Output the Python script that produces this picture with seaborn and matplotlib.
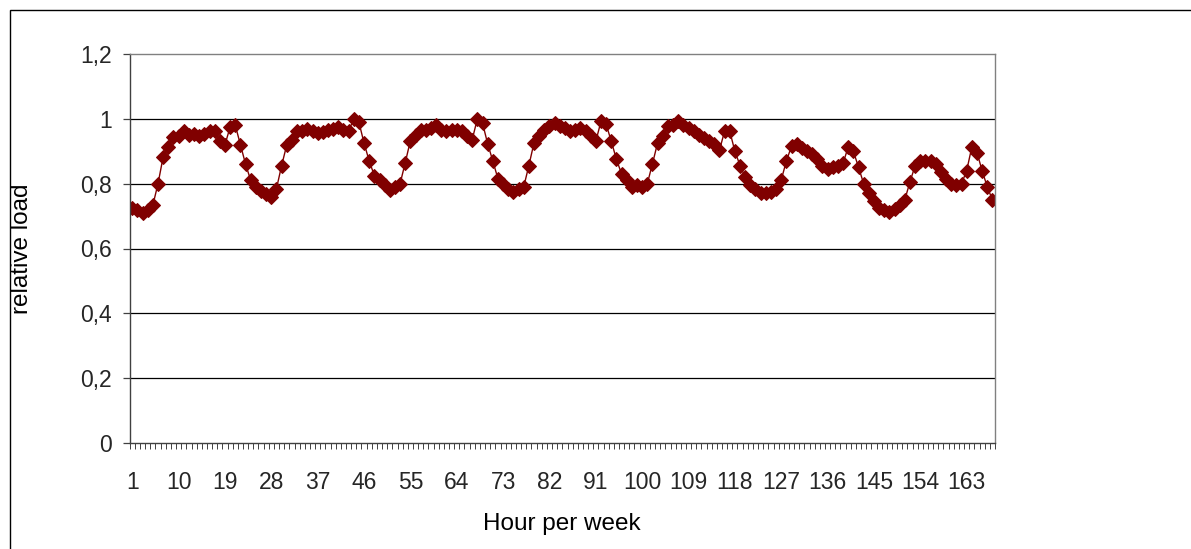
import matplotlib
matplotlib.use("Agg")
import matplotlib.pyplot as plt
import seaborn as sns
import numpy as np
import pandas as pd
from matplotlib.patches import Rectangle

# ---- data ----
hours = list(range(1, 169))
relative_load = [
    0.724, 0.719, 0.711, 0.719, 0.734, 0.800, 0.883, 0.913, 0.945, 0.947,
    0.964, 0.950, 0.952, 0.947, 0.954, 0.962, 0.962, 0.932, 0.920, 0.975,
    0.980, 0.920, 0.860, 0.810, 0.790, 0.776, 0.769, 0.759, 0.785, 0.856,
    0.920, 0.936, 0.962, 0.962, 0.970, 0.962, 0.955, 0.958, 0.965, 0.970,
    0.975, 0.967, 0.962, 1.000, 0.990, 0.925, 0.870, 0.825, 0.810, 0.795,
    0.780, 0.790, 0.800, 0.865, 0.933, 0.950, 0.967, 0.965, 0.972, 0.980,
    0.967, 0.962, 0.967, 0.967, 0.962, 0.946, 0.936, 1.000, 0.987, 0.923,
    0.870, 0.815, 0.800, 0.785, 0.775, 0.785, 0.790, 0.856, 0.926, 0.946,
    0.967, 0.977, 0.987, 0.977, 0.972, 0.962, 0.967, 0.972, 0.962, 0.946,
    0.931, 0.992, 0.983, 0.931, 0.875, 0.830, 0.810, 0.790, 0.795, 0.790,
    0.800, 0.862, 0.926, 0.946, 0.977, 0.982, 0.994, 0.982, 0.972, 0.962,
    0.951, 0.941, 0.933, 0.921, 0.903, 0.962, 0.962, 0.900, 0.856, 0.820,
    0.795, 0.785, 0.770, 0.770, 0.775, 0.785, 0.812, 0.870, 0.916, 0.921,
    0.911, 0.900, 0.890, 0.875, 0.856, 0.846, 0.850, 0.856, 0.863, 0.913,
    0.900, 0.851, 0.800, 0.770, 0.745, 0.724, 0.719, 0.714, 0.721, 0.734,
    0.751, 0.806, 0.856, 0.870, 0.870, 0.870, 0.861, 0.836, 0.815, 0.800,
    0.795, 0.800, 0.840, 0.913, 0.896, 0.840, 0.790, 0.750,
]
x_tick_labels = [str(h) for h in range(1, 169, 9)]
y_ticks = [0, 0.2, 0.4, 0.6, 0.8, 1.0, 1.2]
y_tick_labels = ["0", "0,2", "0,4", "0,6", "0,8", "1", "1,2"]

df = pd.DataFrame({"hour": hours, "load": relative_load})

sns.set_theme(style="white")
plt.rcParams["font.family"] = ["Liberation Sans", "DejaVu Sans"]

fig = plt.figure(figsize=(11.91, 5.49), dpi=100)
W, H = 1191, 549
left, right, top, bottom = 129.7, 995, 54, 443
ax = fig.add_axes([left / W, 1 - bottom / H, (right - left) / W, (bottom - top) / H])

# outer chart frame
fig.patches.append(Rectangle((10 / W, -0.1), 1.2, 1 - 10 / H + 0.1,
                             transform=fig.transFigure, fill=False,
                             edgecolor="black", linewidth=1.0))

dark_red = "#800000"
sns.lineplot(data=df, x="hour", y="load", ax=ax, color=dark_red,
             linewidth=1.0, marker="D", markersize=7.4,
             markeredgecolor=dark_red, markerfacecolor=dark_red)

ax.set_xlim(0.5, 168.5)
ax.set_ylim(0, 1.2)

# gridlines
for yv in y_ticks[1:-1]:
    ax.axhline(yv, color="black", linewidth=0.9, zorder=0)

ax.set_yticks(y_ticks)
ax.set_yticklabels(y_tick_labels)
ax.set_xticks(list(range(1, 169, 9)))
ax.set_xticklabels(x_tick_labels)
ax.set_xticks(np.arange(0.5, 169, 1.0), minor=True)

ax.tick_params(axis="y", which="major", direction="out", length=5, width=0.9,
               color="#404040", labelsize=16.5, pad=8, left=True)
ax.tick_params(axis="x", which="major", length=0, labelsize=16.5, pad=20,
               bottom=True)
ax.tick_params(axis="x", which="minor", direction="out", length=4, width=0.7,
               color="#404040", bottom=True)

for side in ["left", "bottom"]:
    ax.spines[side].set_color("#404040")
    ax.spines[side].set_linewidth(1.0)
for side in ["right", "top"]:
    ax.spines[side].set_color("#808080")
    ax.spines[side].set_linewidth(1.0)
    ax.spines[side].set_visible(True)

ax.set_xlabel("Hour per week", fontsize=17.5, color="black")
ax.set_ylabel("relative load", fontsize=17.5, color="black")
ax.xaxis.set_label_coords((562 - left) / (right - left), -(524 - bottom) / (bottom - top))
ax.xaxis.label.set_va("center")
ax.yaxis.set_label_coords(-(left - 22) / (right - left), 0.5)
ax.yaxis.label.set_va("center")
ax.set_facecolor("white")

fig.savefig("out.png", dpi=100, facecolor="white")
